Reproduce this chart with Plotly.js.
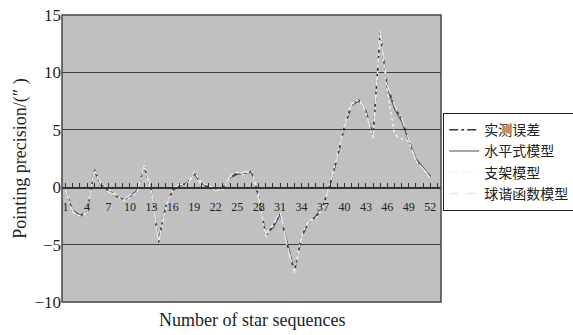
<!DOCTYPE html>
<html>
<head>
<meta charset="utf-8">
<script src="https://cdn.plot.ly/plotly-3.0.1.min.js"></script>
<style>html,body{margin:0;padding:0;background:#fff;}#chart{width:573px;height:335px;}</style>
</head>
<body>
<div id="chart"></div>
<script>
// Star sequence numbers
const starSeq = [1,2,3,4,5,6,7,8,9,10,11,12,13,14,15,16,17,18,19,20,21,22,23,24,25,26,27,28,29,30,31,32,33,34,35,36,37,38,39,40,41,42,43,44,45,46,47,48,49,50,51,52];
// Tick labels on the category axis
const tickSeq = [1,2,3,4,5,6,7,8,9,10,11,12,13,14,15,16,17,18,19,20,21,22,23,24,25,26,27,28,29,30,31,32,33,34,35,36,37,38,39,40,41,42,43,44,45,46,47,48,49,50,51,52,53];
const tickLabels = ["1","","","4","","","7","","","10","","","13","","","16","","","19","","","22","","","25","","","28","","","31","","","34","","","37","","","40","","","43","","","46","","","49","","","52",""];
const yTicks = [-10,-5,0,5,10,15];

// 实测误差 (measured error)
const measured = [-0.3,-2.1,-2.5,-2.3,1.6,0.2,-0.3,-0.7,-1.1,-0.8,-0.3,1.8,-0.3,-4.8,-1.7,-0.2,0.2,0.3,1.2,0.3,0.0,-0.2,-0.1,0.9,1.2,1.2,1.4,-0.8,-4.2,-3.4,-2.3,-5.0,-7.4,-4.3,-3.0,-2.6,-1.7,0.3,2.6,5.3,7.2,7.6,6.6,4.5,13.5,8.8,7.0,5.9,4.1,2.4,1.6,0.9];
// 水平式模型 (horizontal model)
const horizModel = [-0.2,-2.0,-2.4,-2.2,1.4,0.1,-0.3,-0.8,-1.0,-0.9,-0.2,1.6,-0.2,-4.6,-1.6,-0.3,0.1,0.4,1.1,0.3,-0.1,-0.2,0.0,0.8,1.1,1.2,1.3,-0.9,-4.0,-3.6,-2.4,-4.8,-7.2,-4.4,-3.1,-2.5,-1.6,0.2,2.5,5.2,7.1,7.5,6.7,4.6,13.3,8.6,6.8,5.7,4.0,2.5,1.7,1.0];
// 支架模型 (bracket model)
const bracketModel = [-0.2,-2.2,-2.5,-2.2,1.5,0.2,-0.2,-0.6,-1.2,-0.9,-0.4,1.7,-0.4,-4.7,-1.8,-0.2,0.2,0.3,1.3,0.4,0.1,-0.1,-0.2,1.0,1.3,1.1,1.5,-0.7,-4.3,-3.2,-2.2,-5.1,-7.3,-4.2,-2.9,-2.7,-1.8,0.4,2.7,5.4,7.3,7.6,6.5,4.3,13.4,8.4,4.6,4.2,4.0,2.3,1.5,0.8];
// 球谐函数模型 (spherical harmonic model)
const harmonicModel = [-0.3,-2.1,-2.6,-2.3,1.5,0.3,-0.4,-0.7,-1.1,-0.7,-0.3,1.9,-0.2,-4.9,-1.7,-0.1,0.3,0.2,1.2,0.2,0.0,-0.3,-0.1,0.9,1.2,1.3,1.4,-1.0,-4.1,-3.3,-2.1,-5.2,-7.5,-4.4,-3.0,-2.6,-1.7,0.3,2.6,5.2,7.2,7.7,6.6,4.4,13.6,8.9,7.1,6.0,4.2,2.3,1.6,0.9];

const traces = [
  {x: starSeq, y: horizModel, name: '水平式模型', type: 'scatter', mode: 'lines',
   line: {color: '#4a4a4a', width: 1, dash: 'solid'}, legendrank: 2},
  {x: starSeq, y: measured, name: '实测误差', type: 'scatter', mode: 'lines',
   line: {color: '#333333', width: 1.4, dash: 'dashdot'}, legendrank: 1},
  {x: starSeq, y: bracketModel, name: '支架模型', type: 'scatter', mode: 'lines',
   line: {color: '#f4f4f4', width: 1.4, dash: 'dot'}, legendrank: 3},
  {x: starSeq, y: harmonicModel, name: '球谐函数模型', type: 'scatter', mode: 'lines',
   line: {color: '#e6e6e6', width: 1.5, dash: 'dash'}, legendrank: 4}
];

const layout = {
  width: 573, height: 335,
  margin: {l: 62, r: 132, t: 15, b: 33},
  paper_bgcolor: '#ffffff',
  plot_bgcolor: '#c0c0c0',
  showlegend: true,
  legend: {
    xref: 'container', yref: 'container',
    x: 443/573, y: 1 - 113/335, xanchor: 'left', yanchor: 'top',
    bgcolor: '#ffffff', bordercolor: '#222', borderwidth: 1.2,
    font: {family: 'Noto Sans CJK SC', size: 14, color: '#222'},
    tracegroupgap: 0, itemwidth: 30, traceorder: 'normal'
  },
  xaxis: {
    range: [0.5, 53.5],
    tickmode: 'array', tickvals: tickSeq, ticktext: tickLabels,
    ticks: 'inside', ticklen: 4, tickwidth: 1, tickcolor: '#333',
    showline: true, linecolor: '#333', linewidth: 1.5,
    anchor: 'free', position: 0.4,
    showgrid: false, zeroline: false,
    tickfont: {family: 'Liberation Serif', size: 12, color: '#222'},
    ticklabelstandoff: 8,
    fixedrange: true
  },
  yaxis: {
    range: [-10, 15],
    tickmode: 'array', tickvals: yTicks,
    showgrid: true, gridcolor: '#3c3c3c', gridwidth: 1.3,
    zeroline: false, ticks: '', showline: false,
    tickfont: {family: 'Liberation Serif', size: 17, color: '#222'},
    title: {text: 'Pointing precision/(″ )', font: {family: 'Liberation Serif', size: 18, color: '#222'}, standoff: 3},
    automargin: false,
    fixedrange: true
  },
  shapes: [
    {type: 'rect', xref: 'paper', yref: 'paper', x0: 0, x1: 1, y0: 0, y1: 1,
     line: {color: '#444', width: 1.5}, fillcolor: 'rgba(0,0,0,0)', layer: 'above'}
  ],
  annotations: [
    {text: 'Number of star sequences', xref: 'paper', yref: 'paper',
     x: 0.5, y: -0.063, xanchor: 'center', yanchor: 'middle', showarrow: false,
     font: {family: 'Liberation Serif', size: 18, color: '#222'}}
  ]
};

Plotly.newPlot('chart', traces, layout, {displayModeBar: false, staticPlot: true});
</script>
</body>
</html>
